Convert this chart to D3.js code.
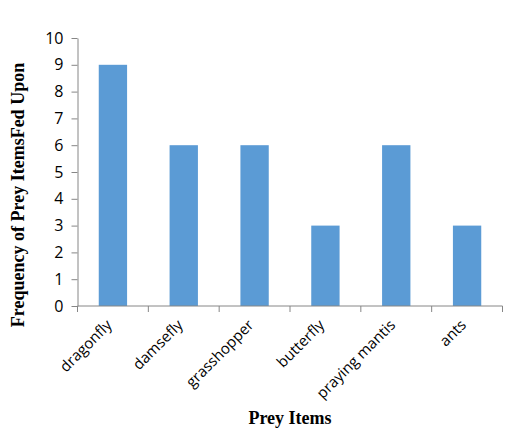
<!DOCTYPE html>
<html lang="en">
<head>
    <meta charset="UTF-8">
    <title>Prey Items</title>
    <style>
        body { margin: 0; background: #fff; }
        svg { display: block; }
    </style>
</head>
<body>
    <svg width="518" height="435"></svg>

    <script src="https://d3js.org/d3.v7.min.js"></script>
    <script>
        const categories = ["dragonfly", "damsefly", "grasshopper", "butterfly", "praying mantis", "ants"];
        const counts = [9, 6, 6, 3, 6, 3];
        const yTicks = [0, 1, 2, 3, 4, 5, 6, 7, 8, 9, 10];

        const svg = d3.select("svg");
        const margin = {top: 38, right: 15.5, bottom: 129, left: 77.5};
        const width = +svg.attr("width") - margin.left - margin.right;
        const height = +svg.attr("height") - margin.top - margin.bottom;
        const g = svg.append("g").attr("transform", `translate(${margin.left},${margin.top})`);

        const x = d3.scaleBand().domain(categories).range([0, width]).paddingInner(0.6).paddingOuter(0.3);
        const xb = d3.scaleBand().domain(categories).range([0, width]);
        const y = d3.scaleLinear().domain([0, 10]).range([height, 0]);

        g.selectAll("rect")
            .data(categories)
            .enter().append("rect")
            .attr("x", d => x(d))
            .attr("y", (d, i) => y(counts[i]))
            .attr("width", x.bandwidth())
            .attr("height", (d, i) => y(0) - y(counts[i]))
            .attr("fill", "#5B9BD5");

        // y axis
        const yAxis = g.append("g")
            .call(d3.axisLeft(y).tickValues(yTicks).tickSize(6).tickSizeOuter(0).tickPadding(8));
        yAxis.attr("font-size", null).attr("font-family", null);
        yAxis.selectAll("text")
            .style("font-family", "'Open Sans', sans-serif")
            .style("font-size", "16px")
            .attr("fill", "#000");
        yAxis.select(".domain").attr("stroke", "#868686");
        yAxis.selectAll(".tick line").attr("stroke", "#868686");

        // x axis, ticks sit on band edges
        const xAxis = g.append("g").attr("transform", `translate(0,${height})`);
        xAxis.append("line")
            .attr("x1", 0).attr("x2", width)
            .attr("stroke", "#868686");
        xAxis.selectAll("line.tick")
            .data(categories.concat(["end"]))
            .enter().append("line")
            .attr("class", "tick")
            .attr("x1", (d, i) => i * xb.bandwidth())
            .attr("x2", (d, i) => i * xb.bandwidth())
            .attr("y1", 0).attr("y2", 6)
            .attr("stroke", "#868686");
        xAxis.selectAll("text")
            .data(categories)
            .enter().append("text")
            .attr("transform", d => `translate(${xb(d) + xb.bandwidth() / 2},${20}) rotate(-45)`)
            .attr("text-anchor", "end")
            .style("font-family", "'Open Sans', sans-serif")
            .style("font-size", "15px")
            .attr("fill", "#000")
            .text(d => d);

        // titles
        svg.append("text")
            .attr("transform", `translate(24,195) rotate(-90)`)
            .attr("text-anchor", "middle")
            .style("font-family", "'Liberation Serif', serif")
            .style("font-weight", "bold")
            .style("font-size", "18px")
            .text("Frequency of Prey ItemsFed Upon");

        svg.append("text")
            .attr("x", margin.left + width / 2)
            .attr("y", 424)
            .attr("text-anchor", "middle")
            .style("font-family", "'Liberation Serif', serif")
            .style("font-weight", "bold")
            .style("font-size", "18px")
            .text("Prey Items");
    </script>
</body>
</html>
